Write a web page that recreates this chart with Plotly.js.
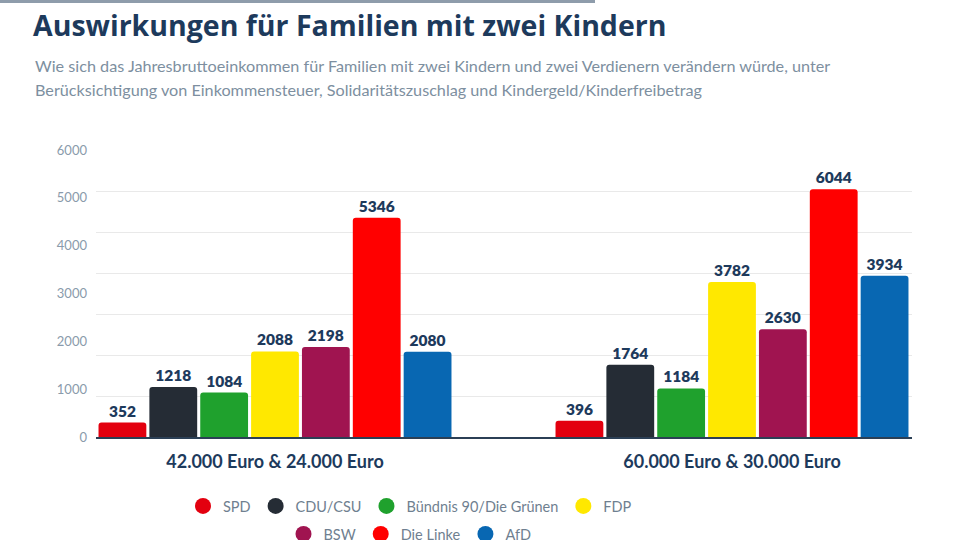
<!DOCTYPE html>
<html>
<head>
<meta charset="utf-8">
<script src="https://cdn.plot.ly/plotly-3.0.1.min.js"></script>
<style>html,body{margin:0;padding:0;background:#fff;}#chart{width:960px;height:540px;}</style>
</head>
<body>
<div id="chart"></div>
<script>
const categories = ['42.000 Euro & 24.000 Euro', '60.000 Euro & 30.000 Euro'];
const parties = ['SPD', 'CDU/CSU', 'Bündnis 90/Die Grünen', 'FDP', 'BSW', 'Die Linke', 'AfD'];
const spd = [352, 396];
const cdu = [1218, 1764];
const gruene = [1084, 1184];
const fdp = [2088, 3782];
const bsw = [2198, 2630];
const linke = [5346, 6044];
const afd = [2080, 3934];
const yTickLabels = ['0', '1000', '2000', '3000', '4000', '5000', '6000'];
const gridMax = 7000;
const subtitleLines = [
  'Wie sich das Jahresbruttoeinkommen für Familien mit zwei Kindern und zwei Verdienern verändern würde, unter',
  'Berücksichtigung von Einkommensteuer, Solidaritätszuschlag und Kindergeld/Kinderfreibetrag'
];

const seriesValues = [spd, cdu, gruene, fdp, bsw, linke, afd];
const colors = ['#e3000f', '#252c35', '#1fa12d', '#ffe800', '#a01450', '#ff0000', '#0867b2'];

const FONT = 'Lato, "Open Sans", sans-serif';
const TFONT = '"Open Sans", Lato, sans-serif';
const NAVY = '#1d3a5c';

const traces = [];
parties.forEach((p, i) => {
  traces.push({
    type: 'bar', name: p, x: categories, y: seriesValues[i],
    text: seriesValues[i].map(String), textposition: 'outside', cliponaxis: false,
    textfont: {family: FONT, size: 15.5, color: NAVY, weight: 800},
    marker: {color: colors[i]}, showlegend: false, legendgroup: p, hoverinfo: 'x+y+name'
  });
});
parties.forEach((p, i) => {
  traces.push({
    type: 'scatter', mode: 'markers', name: p, x: [null], y: [null], yaxis: 'y2',
    marker: {color: colors[i], size: 16, symbol: 'circle'},
    legendgroup: p, legend: i < 4 ? 'legend' : 'legend2', hoverinfo: 'skip'
  });
});

const L = 96, R = 912, T = 150, B = 437, W = 960, H = 540;
const px2x = v => (v - L) / (R - L);
const px2y = v => (B - v) / (B - T);

const legendFont = {family: FONT, size: 14.5, color: '#6f7f90'};

const layout = {
  width: W, height: H,
  margin: {l: L, r: W - R, t: T, b: H - B, autoexpand: false},
  paper_bgcolor: '#fff', plot_bgcolor: '#fff',
  barmode: 'group', bargap: 0.221, bargroupgap: 0.06, barcornerradius: 3,
  font: {family: FONT, color: '#7d8fa0'},
  title: {
    text: '<b>Auswirkungen für Familien mit zwei Kindern</b>',
    font: {family: TFONT, size: 28.5, color: NAVY},
    xref: 'container', yref: 'container', x: 33 / W, xanchor: 'left', y: 1 - 26 / H, yanchor: 'middle',
    automargin: false
  },
  xaxis: {
    type: 'category', range: [-(275 - L) / 457, 1 + (R - 732) / 457],
    showline: true, linecolor: '#2b3f55', linewidth: 1.5,
    ticks: '', showgrid: false, zeroline: false, fixedrange: true, ticklabelstandoff: 8,
    tickfont: {family: FONT, size: 18, color: NAVY, weight: 700}
  },
  yaxis: {
    range: [0, gridMax], dtick: 1000, tick0: 0, showgrid: true, gridcolor: '#e9e9e9', gridwidth: 1,
    showticklabels: false, ticks: '', zeroline: false, fixedrange: true
  },
  yaxis2: {
    overlaying: 'y', side: 'left', range: [0, gridMax],
    tickmode: 'array', tickvals: yTickLabels.map((t, i) => i * gridMax / (yTickLabels.length - 1)), ticktext: yTickLabels,
    showgrid: false, zeroline: false, ticks: '', ticklabelstandoff: 8,
    tickfont: {family: FONT, size: 13, color: '#8a9bab'}, fixedrange: true
  },
  legend: {
    orientation: 'h', x: px2x(410), xanchor: 'center', y: px2y(490), yanchor: 'top',
    font: legendFont, bgcolor: 'rgba(0,0,0,0)'
  },
  legend2: {
    orientation: 'h', x: px2x(410), xanchor: 'center', y: px2y(518), yanchor: 'top',
    font: legendFont, bgcolor: 'rgba(0,0,0,0)'
  },
  annotations: subtitleLines.map((t, i) => ({
    xref: 'paper', yref: 'paper', x: px2x(33), y: px2y(66 + i * 24), xanchor: 'left', yanchor: 'middle', align: 'left',
    showarrow: false, text: t,
    font: {family: FONT, size: 16.2, color: '#7d8fa0'}
  })),
  shapes: [{
    type: 'rect', xref: 'paper', yref: 'paper', x0: px2x(0), x1: px2x(595), y0: px2y(3), y1: px2y(-2),
    fillcolor: '#8e9cab', line: {width: 0}, layer: 'above'
  }]
};

Plotly.newPlot('chart', traces, layout, {displayModeBar: false, staticPlot: true});
</script>
</body>
</html>
